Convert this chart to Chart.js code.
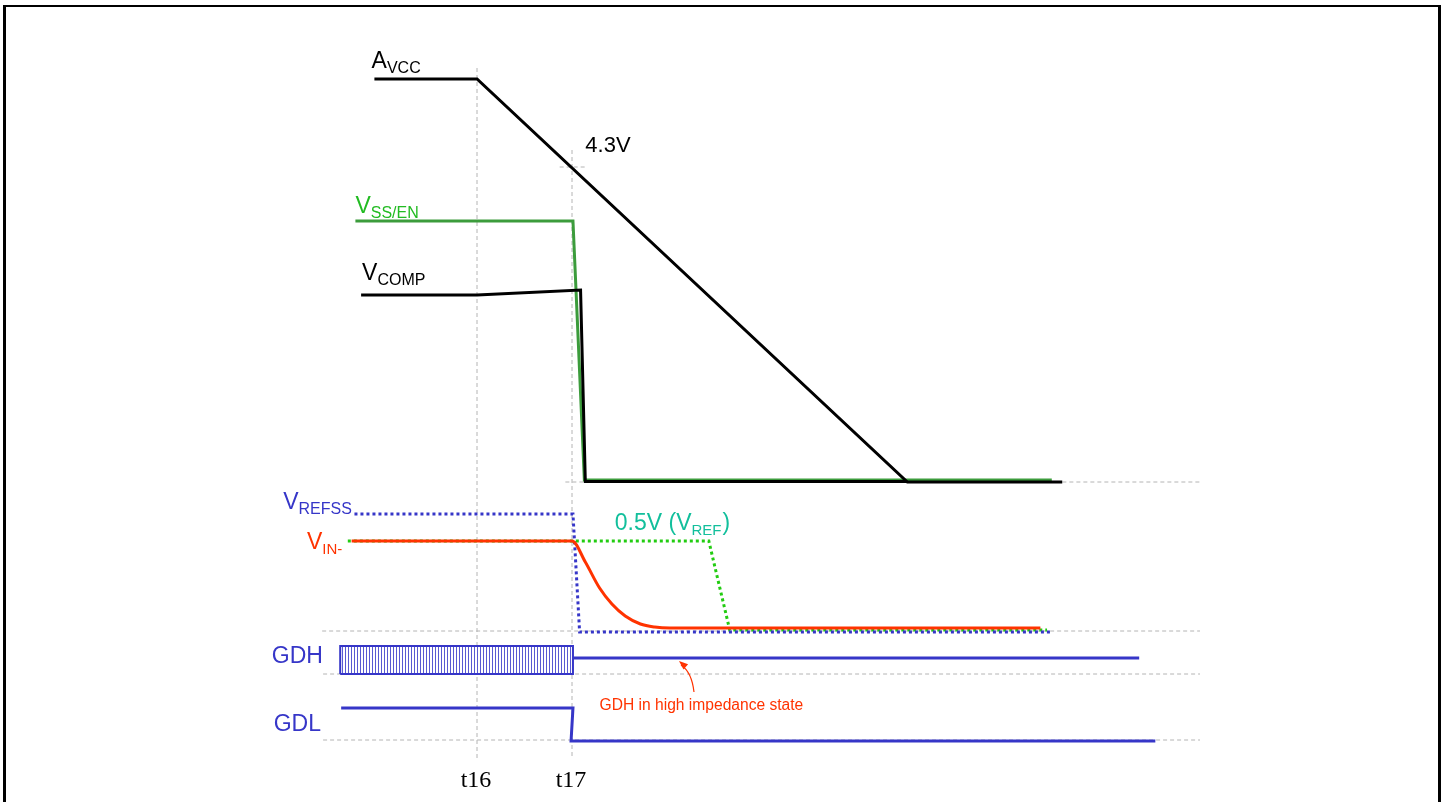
<!DOCTYPE html>
<html><head><meta charset="utf-8">
<script src="https://cdn.jsdelivr.net/npm/chart.js@4/dist/chart.umd.min.js"></script>
<style>
html,body{margin:0;padding:0;background:#fff;}
#wrap{position:relative;width:1445px;height:802px;overflow:hidden;background:#fff;}
#frame{position:absolute;left:3px;top:5px;width:1438px;height:830px;box-sizing:border-box;border-top:2px solid #000;border-left:3px solid #000;border-right:3px solid #000;pointer-events:none;}
canvas{position:absolute;left:0;top:0;}
</style></head>
<body><div id="wrap"><canvas id="c" width="1445" height="802"></canvas><div id="frame"></div></div>
<script>
// ---- data (time in arbitrary units, t16 = 160, t17 = 170; level in diagram units) ----
const avccX   = [149.2, 160, 205.3, 221.6];
const avccY   = [72.3, 72.3, 32.0, 32.0];
const vssenX  = [147.2, 170.1, 171.3, 220.5];
const vssenY  = [58.1, 58.1, 32.2, 32.2];
const vcompX  = [147.8, 160, 170.9, 171.4, 205.3];
const vcompY  = [50.7, 50.7, 51.2, 32.05, 32.05];
const vrefssX = [147.1, 170.1, 170.8, 220.4];
const vrefssY = [28.8, 28.8, 17.0, 17.0];
const vinX    = [146.8, 170.0, 171.4, 172.9, 174.2, 175.6, 177.2, 178.7, 180.3, 219.3];
const vinY    = [26.1, 26.1, 24.0, 21.4, 19.8, 18.6, 17.8, 17.5, 17.4, 17.4];
const vrefX   = [146.4, 184.4, 186.6, 220.0];
const vrefY   = [26.1, 26.1, 17.2, 17.2];
const gdhBoxX = [145.6, 145.6, 170.1, 170.1, 145.6];
const gdhBoxY = [12.8, 15.6, 15.6, 12.8, 12.8];
const gdhHizX = [170.1, 229.7];
const gdhHizY = [14.4, 14.4];
const gdlX    = [145.7, 170.1, 169.9, 231.4];
const gdlY    = [9.4, 9.4, 6.1, 6.1];
const tickLabels = ['t16', 't17'];
const tickX      = [160, 170];
const vGuideTop  = [73.4, 65.2];
const vGuideBot  = 4.4;
const hGuideY    = [32.0, 17.1, 12.8, 6.2];
const hGuideX0   = [169.3, 143.7, 143.8, 143.8];
const hGuideX1   = 236.1;
const v43X = [168.7, 171.4];
const v43Y = 63.5;

// ---- helpers ----
const pts = (xs, ys) => xs.map((x, i) => ({x: x, y: ys[i]}));
const BLUE = '#3636c8', RED = '#ff3300', GRAY = '#b4b4b4';

const pc = document.createElement('canvas');
pc.width = 3; pc.height = 1;
const pctx = pc.getContext('2d');
pctx.fillStyle = '#ffffff'; pctx.fillRect(0, 0, 3, 1);
pctx.fillStyle = '#5a5ad2'; pctx.fillRect(0, 0, 1, 1);
const hatch = document.getElementById('c').getContext('2d').createPattern(pc, 'repeat');

const line = (data, color, width, extra) => Object.assign({
  data: data, borderColor: color, borderWidth: width, pointRadius: 0, fill: false,
  tension: 0, borderCapStyle: 'butt', borderJoinStyle: 'miter'
}, extra || {});

const guides = [];
tickX.forEach((x, i) => guides.push(line([{x: x, y: vGuideTop[i]}, {x: x, y: vGuideBot}], GRAY, 1, {borderDash: [4, 3], order: 10})));
hGuideY.forEach((y, i) => guides.push(line([{x: hGuideX0[i], y: y}, {x: hGuideX1, y: y}], GRAY, 1, {borderDash: [4, 3], order: 10})));
guides.push(line([{x: v43X[0], y: v43Y}, {x: v43X[1], y: v43Y}], GRAY, 1, {borderDash: [4, 3], order: 10}));

const datasets = guides.concat([
  line(pts(vssenX, vssenY), '#3c9c3c', 3, {order: 3}),
  line(pts(vcompX, vcompY), '#000000', 3, {order: 2}),
  line(pts(avccX, avccY), '#000000', 3, {order: 1}),
  line(pts(vrefX, vrefY), '#22cc11', 3, {borderDash: [3, 3], order: 6}),
  line(pts(vrefssX, vrefssY), BLUE, 3, {borderDash: [3, 3], order: 5}),
  line(pts(vinX, vinY), RED, 3, {cubicInterpolationMode: 'monotone', order: 4}),
  line(pts(gdhBoxX.slice(1, 3), gdhBoxY.slice(1, 3)), 'rgba(0,0,0,0)', 0, {fill: {value: gdhBoxY[0]}, backgroundColor: hatch, order: 8}),
  line(pts(gdhBoxX, gdhBoxY), BLUE, 2, {order: 7}),
  line(pts(gdhHizX, gdhHizY), BLUE, 3, {order: 7}),
  line(pts(gdlX, gdlY), BLUE, 3, {order: 7})
]);

// text labels (positions in data units)
const labels = [
  {m: 'A', s: 'VCC', x: 148.9, y: 73.4, c: '#000', ms: 23, ss: 16},
  {m: '4.3V', x: 171.4, y: 65.0, c: '#000', ms: 22},
  {m: 'V', s: 'SS/EN', x: 147.2, y: 58.9, c: '#22bb22', ms: 23, ss: 16},
  {m: 'V', s: 'COMP', x: 147.9, y: 52.2, c: '#000', ms: 23, ss: 16},
  {m: 'V', s: 'REFSS', x: 139.6, y: 29.3, c: BLUE, ms: 23, ss: 16},
  {m: 'V', s: 'IN-', x: 142.1, y: 25.3, c: RED, ms: 23, ss: 15},
  {m: '0.5V (V', s: 'REF', a: ')', x: 174.5, y: 27.2, c: '#12bf9c', ms: 23, ss: 15},
  {m: 'GDH', x: 138.4, y: 13.9, c: BLUE, ms: 23},
  {m: 'GDL', x: 138.6, y: 7.1, c: BLUE, ms: 23}
];
const note = {text: 'GDH in high impedance state', x: 172.9, y: 9.6, c: RED, size: 15.6,
  tip: {x: 181.26, y: 14.1}, ctrl: {x: 182.6, y: 13.0}, tail: {x: 182.84, y: 11.0}};

const textPlugin = {
  id: 'texts',
  afterDatasetsDraw(chart) {
    const ctx = chart.ctx, xs = chart.scales.x, ys = chart.scales.y;
    ctx.save();
    ctx.textBaseline = 'alphabetic';
    ctx.textAlign = 'left';
    labels.forEach(l => {
      const px = xs.getPixelForValue(l.x), py = ys.getPixelForValue(l.y);
      ctx.fillStyle = l.c;
      ctx.font = l.ms + 'px "Liberation Sans", Arial, sans-serif';
      ctx.fillText(l.m, px, py);
      let w = ctx.measureText(l.m).width;
      if (l.s) {
        ctx.font = l.ss + 'px "Liberation Sans", Arial, sans-serif';
        ctx.fillText(l.s, px + w, py + 5);
        w += ctx.measureText(l.s).width;
      }
      if (l.a) {
        ctx.font = l.ms + 'px "Liberation Sans", Arial, sans-serif';
        ctx.fillText(l.a, px + w + 1, py);
      }
    });
    // time labels
    ctx.fillStyle = '#000';
    ctx.textAlign = 'center';
    ctx.font = '24px "Liberation Serif", "Times New Roman", serif';
    tickLabels.forEach((t, i) => ctx.fillText(t, xs.getPixelForValue(tickX[i]) - 1, ys.getPixelForValue(1.5)));
    // annotation
    ctx.textAlign = 'left';
    ctx.textBaseline = 'middle';
    ctx.fillStyle = note.c;
    ctx.font = note.size + 'px "Liberation Sans", Arial, sans-serif';
    ctx.fillText(note.text, xs.getPixelForValue(note.x), ys.getPixelForValue(note.y));
    const tp = {x: xs.getPixelForValue(note.tip.x), y: ys.getPixelForValue(note.tip.y)};
    const cp = {x: xs.getPixelForValue(note.ctrl.x), y: ys.getPixelForValue(note.ctrl.y)};
    const tl = {x: xs.getPixelForValue(note.tail.x), y: ys.getPixelForValue(note.tail.y)};
    ctx.strokeStyle = note.c; ctx.lineWidth = 1.2;
    ctx.beginPath(); ctx.moveTo(tl.x, tl.y); ctx.quadraticCurveTo(cp.x, cp.y, tp.x + 2, tp.y + 4); ctx.stroke();
    const ang = Math.atan2(tp.y - cp.y, tp.x - cp.x);
    ctx.beginPath();
    ctx.moveTo(tp.x, tp.y);
    ctx.lineTo(tp.x - 9 * Math.cos(ang) + 3.5 * Math.sin(ang), tp.y - 9 * Math.sin(ang) - 3.5 * Math.cos(ang));
    ctx.lineTo(tp.x - 9 * Math.cos(ang) - 3.5 * Math.sin(ang), tp.y - 9 * Math.sin(ang) + 3.5 * Math.cos(ang));
    ctx.closePath(); ctx.fill();
    ctx.restore();
  }
};

new Chart(document.getElementById('c'), {
  type: 'line',
  data: {datasets: datasets},
  options: {
    responsive: false, animation: false, events: [],
    layout: {padding: 0},
    scales: {
      x: {type: 'linear', min: 109.79, max: 261.89, display: false},
      y: {type: 'linear', min: 0, max: 80.2, display: false}
    },
    plugins: {legend: {display: false}, tooltip: {enabled: false}, title: {display: false}},
    elements: {point: {radius: 0}}
  },
  plugins: [textPlugin]
});
</script>
</body></html>
